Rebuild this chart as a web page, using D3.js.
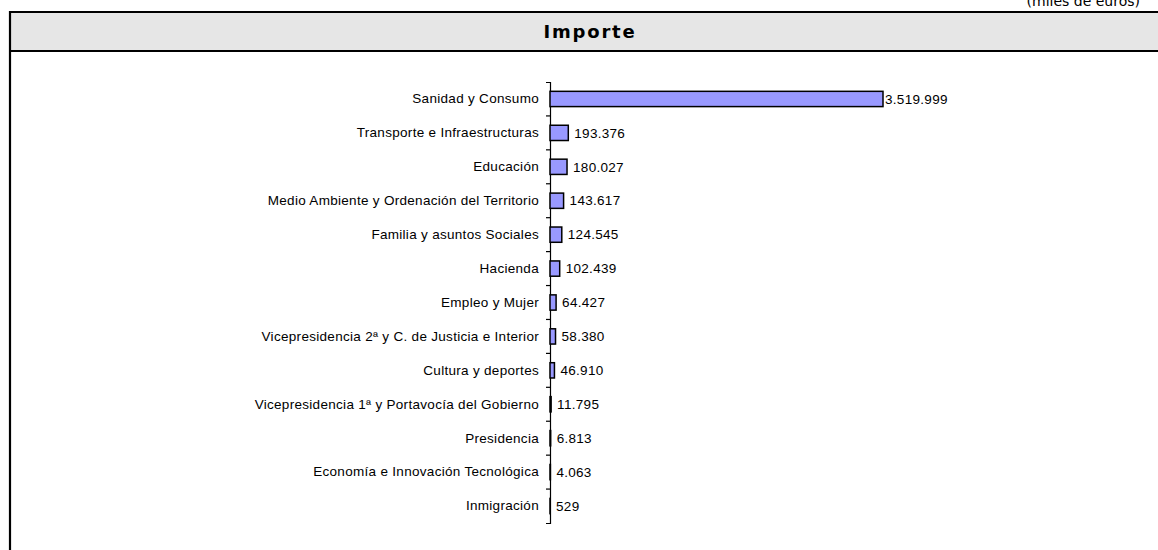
<!DOCTYPE html>
<html>
<head>
<meta charset="utf-8">
<script src="https://cdn.jsdelivr.net/npm/d3@7"></script>
<style>
body { margin: 0; background: #fff; }
svg { display: block; }
</style>
</head>
<body>
<div id="chart"></div>
<script>
// categories, top to bottom
var categories = [
  "Sanidad y Consumo",
  "Transporte e Infraestructuras",
  "Educación",
  "Medio Ambiente y Ordenación del Territorio",
  "Familia y asuntos Sociales",
  "Hacienda",
  "Empleo y Mujer",
  "Vicepresidencia 2ª y C. de Justicia e Interior",
  "Cultura y deportes",
  "Vicepresidencia 1ª y Portavocía del Gobierno",
  "Presidencia",
  "Economía e Innovación Tecnológica",
  "Inmigración"
];
// importe, miles de euros
var importe = [3519999, 193376, 180027, 143617, 124545, 102439, 64427, 58380, 46910, 11795, 6813, 4063, 529];

var title = "Importe";
var units = "(miles de euros)";

var width = 1158, height = 550;

var svg = d3.select("#chart")
  .append("svg")
  .attr("width", width)
  .attr("height", height);

// frame and header band
svg.append("rect")
  .attr("x", 10).attr("y", 12)
  .attr("width", width + 20).attr("height", 39)
  .attr("fill", "#e6e6e6");
svg.append("path")
  .attr("d", "M10," + (height + 10) + "V12H" + (width + 10) + "M10,51H" + (width + 10))
  .attr("fill", "none")
  .attr("stroke", "#000")
  .attr("stroke-width", 2.2);

svg.append("text")
  .attr("x", 590).attr("y", 38)
  .attr("text-anchor", "middle")
  .style("font-family", "'DejaVu Sans', Verdana, sans-serif")
  .style("font-weight", "bold")
  .style("font-size", "18px")
  .style("letter-spacing", "1.8px")
  .text(title);

svg.append("text")
  .attr("x", 1140).attr("y", 6)
  .attr("text-anchor", "end")
  .style("font-family", "'DejaVu Sans', Verdana, sans-serif")
  .style("font-size", "14px")
  .text(units);

// scales
var y = d3.scaleBand()
  .domain(categories)
  .range([82, 523])
  .paddingInner(0.55)
  .paddingOuter(0.275);

var x = d3.scaleLinear()
  .domain([0, d3.max(importe)])
  .range([550, 883]);

var fmt = d3.formatLocale({decimal: ",", thousands: ".", grouping: [3], currency: ["", " €"]}).format(",d");

var data = categories.map(function(c, i) { return {name: c, value: importe[i]}; });

// category axis
var axis = svg.append("g")
  .attr("transform", "translate(" + x(0) + ",0)")
  .call(d3.axisLeft(y).tickSize(0).tickSizeOuter(4).tickPadding(11));
axis.select(".domain").attr("stroke", "#000").attr("stroke-width", 1.2);
axis.selectAll("text")
  .style("font-family", "'Liberation Sans', Arial, sans-serif")
  .style("font-size", "13.5px")
  .style("letter-spacing", "0.3px")
  .attr("fill", "#000");

// ticks between categories
var step = y.step();
axis.selectAll(".sep")
  .data(categories.slice(1))
  .enter()
  .append("line")
  .attr("class", "sep")
  .attr("x1", -4).attr("x2", 0)
  .attr("y1", function(d) { return y(d) - step * y.paddingInner() / 2; })
  .attr("y2", function(d) { return y(d) - step * y.paddingInner() / 2; })
  .attr("stroke", "#000")
  .attr("stroke-width", 1.2);

// bars
svg.selectAll(".bar")
  .data(data)
  .enter()
  .append("rect")
  .attr("class", "bar")
  .attr("x", x(0))
  .attr("y", function(d) { return y(d.name); })
  .attr("width", function(d) { return x(d.value) - x(0); })
  .attr("height", y.bandwidth())
  .attr("fill", "#9999ff")
  .attr("stroke", "#000")
  .attr("stroke-width", 1.5);

// value labels
svg.selectAll(".val")
  .data(data)
  .enter()
  .append("text")
  .attr("class", "val")
  .attr("x", function(d) { return Math.min(x(d.value) + 6, x.range()[1] + 2); })
  .attr("y", function(d) { return y(d.name) + y.bandwidth() / 2; })
  .attr("dy", "0.35em")
  .style("font-family", "'Liberation Sans', Arial, sans-serif")
  .style("font-size", "13.5px")
  .style("letter-spacing", "0.3px")
  .text(function(d) { return fmt(d.value); });
</script>
</body>
</html>
